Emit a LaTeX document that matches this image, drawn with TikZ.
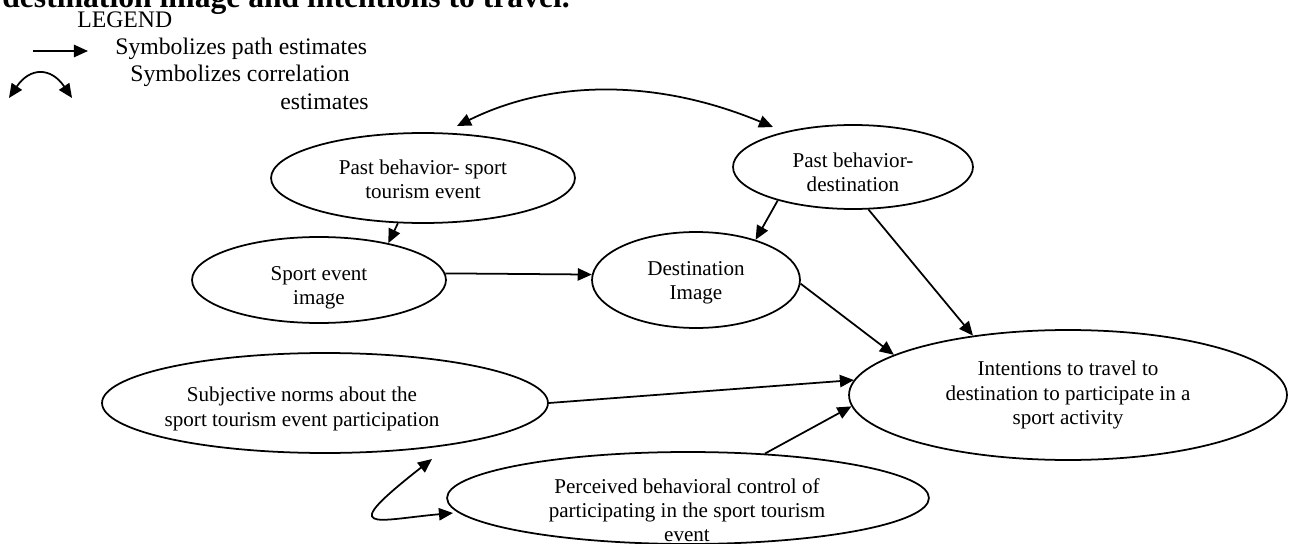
\documentclass[tikz,border=0pt]{standalone}
\usepackage{fontspec}
\setmainfont{Liberation Serif}
\usetikzlibrary{shapes.geometric,arrows.meta}

\begin{document}
\begin{tikzpicture}[x=0.02cm,y=-0.02cm,
	blob/.style={draw, ellipse, line width=1pt, inner sep=0pt},
	txt/.style={align=center, font=\fontsize{12}{13.8}\selectfont},
	leg/.style={anchor=base west, font=\fontsize{13.5}{16}\selectfont},
	pathline/.style={line width=1pt, -{Triangle[length=8pt,width=7pt]}},
	corr/.style={line width=1pt, {Triangle[length=8pt,width=7pt]}-{Triangle[length=8pt,width=7pt]}}]
	\useasboundingbox (0,0) rectangle (1289,544);
	\clip (0,0) rectangle (1289,544);
	\node[anchor=base west, font=\fontsize{18}{20}\selectfont\bfseries, inner sep=0pt] (title) at (2,8) {destination image and intentions to travel.};
	% legend
	\node[leg, inner sep=0pt] (legend) at (77,28) {LEGEND};
	\coordinate (l1a) at (33,51);
	\coordinate (l1b) at (88,51);
	\draw[pathline] (l1a) -- (l1b);
	\node[leg, inner sep=0pt] (l1t) at (115,55) {Symbolizes path estimates};
	\coordinate (l2a) at (9,98);
	\coordinate (l2b) at (72,98);
	\draw[corr] (l2a) .. controls (30,67) and (51,67) .. (l2b);
	\node[leg, inner sep=0pt] (l2t) at (130,82) {Symbolizes correlation};
	\node[leg, inner sep=0pt] (l3t) at (280,110) {estimates};
	% ellipses
	\node[blob, minimum width=6.08cm, minimum height=1.80cm] (pbs) at (423,178) {};
	\node[blob, minimum width=4.80cm, minimum height=1.68cm] (pbd) at (853,167) {};
	\node[blob, minimum width=5.08cm, minimum height=1.72cm] (sei) at (319,280) {};
	\node[blob, minimum width=4.16cm, minimum height=1.92cm] (dim) at (696,280) {};
	\node[blob, minimum width=8.76cm, minimum height=2.60cm] (itt) at (1068,395) {};
	\node[blob, minimum width=8.92cm, minimum height=2.00cm] (sn) at (325,403) {};
	\node[blob, minimum width=9.64cm, minimum height=1.84cm] (pbc) at (688,498) {};
	\node[txt] (pbs-t) at (423,179) {Past behavior- sport\\tourism event};
	\node[txt] (pbd-t) at (853,172) {Past behavior-\\destination};
	\node[txt] (sei-t) at (319,288) {Sport event\\image};
	\node[txt] (dim-t) at (696,283) {Destination\\Image};
	\node[txt] (itt-t) at (1068,395) {Intentions to travel to\\destination to participate in a\\sport activity};
	\node[txt] (sn-t) at (302,409) {Subjective norms about the\\sport tourism event participation};
	\node[txt] (pbc-t) at (687,510) {Perceived behavioral control of\\participating in the sport tourism\\event};
	% paths
	\draw[pathline] (pbs.241) -- (sei.28);
	\draw[pathline] (sei.3) -- (dim.177);
	\draw[pathline] (pbd.204) -- (dim.34);
	\draw[pathline] (pbd.-70) -- (itt.148);
	\draw[pathline] (dim.-2) -- (itt.167);
	\draw[pathline] (sn.0) -- (itt.176);
	\draw[pathline] (pbc.30) -- (itt.183);
	% correlations
	\coordinate (pbs-c) at (457,126);
	\coordinate (pbd-c) at (773,127);
	\draw[corr] (pbs-c) .. controls (552,79) and (658,79) .. (pbd-c);
	\coordinate (sn-c) at (432,459);
	\coordinate (pbc-c) at (453,513);
	\draw[corr] (sn-c) .. controls (335,535) and (375,520) .. (pbc-c);
\end{tikzpicture}
\end{document}
